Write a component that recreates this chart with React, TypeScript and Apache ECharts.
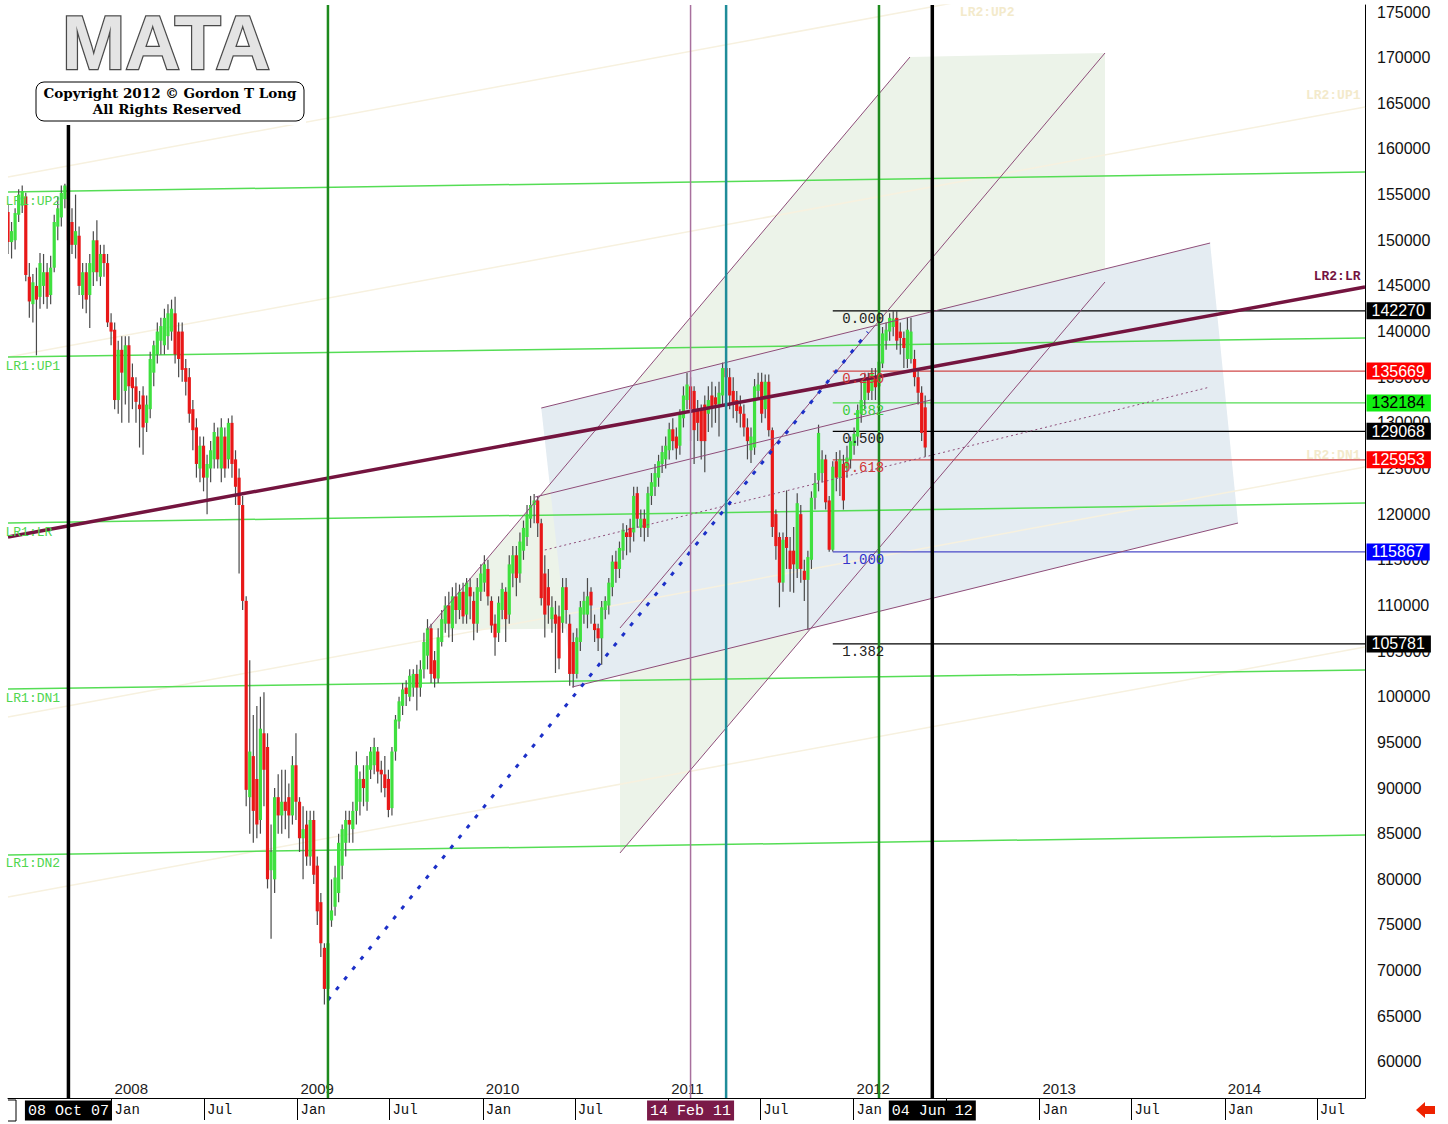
import React, { useEffect, useRef } from "react";
import * as echarts from "echarts";

const MONO = '"Liberation Mono", "DejaVu Sans Mono", monospace';
const SANS = '"Liberation Sans", Arial, sans-serif';

const X_MIN = "2007-06-11";
const X_MAX = "2014-10-04";
const Y_MIN = 56050;
const Y_MAX = 175770;
const FIRST_WEEK = "2007-06-11";

const Y_TICKS = [60000, 65000, 70000, 75000, 80000, 85000, 90000, 95000, 100000, 105000, 110000, 115000, 120000, 125000, 130000, 135000, 140000, 145000, 150000, 155000, 160000, 165000, 170000, 175000];
const HALF_YEAR_TICKS = ["2008-01-01", "2008-07-01", "2009-01-01", "2009-07-01", "2010-01-01", "2010-07-01", "2011-01-01", "2011-07-01", "2012-01-01", "2012-07-01", "2013-01-01", "2013-07-01", "2014-01-01", "2014-07-01"];
// month labels that are not hidden under the highlighted date boxes
const HALF_YEAR_LABELS = ["2008-01-01", "2008-07-01", "2009-01-01", "2009-07-01", "2010-01-01", "2010-07-01", "2011-07-01", "2012-01-01", "2013-01-01", "2013-07-01", "2014-01-01", "2014-07-01"];
const YEAR_TICKS = ["2008-01-01", "2009-01-01", "2010-01-01", "2011-01-01", "2012-01-01", "2013-01-01", "2014-01-01"];

// weekly candles, values in thousands: [open, close, low, high]
const WEEKLY_OHLC_K = [
  [153.1,149.8,148.5,154.0],[149.8,151.0,148.0,152.0],[150.0,153.0,149.0,153.5],[152.8,155.0,152.0,155.6],[153.8,155.4,153.0,156.0],
  [154.8,146.2,145.5,155.2],[146.0,143.3,141.5,147.5],[143.0,145.4,141.0,146.3],[145.0,143.5,137.4,147.0],[143.8,147.5,142.5,148.6],
  [145.0,146.5,143.0,148.5],[146.5,143.8,142.5,147.5],[144.0,147.0,143.0,148.3],[147.0,152.0,146.5,152.8],[151.5,153.5,150.0,154.8],
  [152.5,155.2,151.5,156.0],[154.5,156.0,153.5,156.2],[155.8,150.0,149.0,156.4],[152.0,149.5,148.5,153.5],[149.5,151.0,148.0,155.0],
  [150.5,145.0,144.0,151.5],[144.0,146.5,142.5,147.5],[146.5,143.5,142.0,147.5],[144.0,147.5,140.4,148.5],[146.5,150.0,145.0,151.0],
  [150.0,146.5,145.5,152.2],[146.0,148.5,145.0,149.5],[148.5,147.5,146.0,149.5],[147.5,141.0,140.5,148.5],[141.0,140.0,138.5,142.0],
  [140.2,132.5,131.5,141.0],[132.5,138.0,131.0,139.0],[138.0,135.5,130.0,139.5],[133.5,138.5,132.0,139.5],[138.5,134.0,130.0,139.5],
  [135.0,133.8,131.5,136.5],[134.0,132.3,130.0,135.0],[132.0,131.5,127.3,133.5],[133.0,129.5,126.5,134.0],[130.0,132.0,129.0,133.0],
  [131.5,137.0,130.5,137.8],[135.5,138.5,134.0,139.0],[137.5,140.0,136.5,141.0],[139.0,140.6,137.5,141.5],[138.5,141.5,137.5,142.5],
  [139.5,142.0,138.0,143.0],[140.0,142.5,139.0,143.5],[142.0,137.5,136.5,143.8],[140.0,137.0,135.0,141.0],[140.0,135.8,134.5,141.0],
  [136.0,134.5,133.0,137.0],[135.0,131.0,130.0,136.0],[131.5,129.2,127.0,132.5],[129.5,125.5,124.0,130.5],[125.0,127.5,123.5,128.5],
  [127.5,124.0,122.5,128.5],[124.0,125.5,120.0,126.5],[125.0,127.0,123.5,128.0],[126.0,129.0,125.0,130.0],[128.5,126.0,125.0,129.5],
  [125.0,129.5,123.5,130.5],[128.5,125.0,124.0,129.5],[126.0,130.0,125.0,130.5],[130.0,125.5,124.0,130.8],[126.0,123.0,121.0,127.0],
  [124.0,121.0,113.5,125.0],[121.0,110.5,109.5,122.0],[110.5,89.8,88.0,111.0],[89.0,94.0,85.0,104.0],[93.5,87.5,84.0,98.0],
  [91.0,86.0,84.5,99.0],[86.5,96.5,85.0,100.0],[96.0,92.0,88.0,100.5],[94.5,80.0,79.0,96.0],[81.0,83.0,73.5,86.0],
  [80.0,89.0,78.5,90.0],[89.0,87.0,85.0,91.5],[87.0,88.5,85.0,92.0],[88.5,87.5,85.5,92.0],[89.0,87.0,84.5,90.5],
  [87.0,92.5,86.0,93.5],[92.5,88.5,86.5,96.0],[88.5,84.5,83.0,89.0],[84.5,85.5,80.0,88.0],[86.0,82.5,81.5,87.5],
  [82.5,86.5,81.5,87.5],[86.5,80.5,79.5,87.5],[81.5,76.5,75.0,82.5],[77.5,73.0,71.5,78.5],[72.5,68.0,66.3,73.0],
  [68.0,73.0,66.5,74.0],[75.5,76.6,74.8,80.0],[77.0,80.2,76.0,81.5],[78.5,84.0,77.5,85.0],[81.5,85.5,80.0,86.0],
  [84.0,86.5,82.5,87.5],[86.5,86.0,84.0,87.5],[85.5,87.5,84.0,88.5],[87.5,92.5,86.0,94.0],[88.5,91.0,87.0,91.8],
  [91.0,90.0,88.0,92.5],[88.5,92.5,87.5,93.5],[92.0,94.0,91.0,94.5],[92.5,94.5,91.5,95.5],[94.0,91.8,90.5,94.5],
  [92.0,91.5,89.5,93.0],[91.5,90.0,89.0,93.5],[91.0,87.6,86.8,92.0],[87.8,94.0,87.0,94.5],[94.0,97.5,93.0,98.0],
  [97.3,99.5,96.5,100.0],[99.0,100.8,98.0,101.5],[101.0,100.3,99.0,101.8],[100.0,102.3,99.5,103.0],[101.0,102.5,100.0,103.0],
  [102.5,101.0,98.5,103.5],[101.0,103.0,100.0,104.0],[103.0,106.0,102.0,107.0],[104.5,107.5,103.0,108.5],[107.5,102.5,101.5,108.0],
  [104.0,102.0,101.0,105.0],[102.0,106.5,101.5,107.5],[106.0,108.5,105.5,109.5],[108.0,110.0,107.0,111.0],[110.0,108.0,106.5,111.5],
  [107.5,111.0,106.0,112.0],[111.0,109.5,108.0,112.5],[109.5,111.5,108.5,112.3],[111.5,108.8,108.0,112.5],[109.0,112.5,108.0,113.0],
  [112.0,111.0,108.5,113.0],[110.5,108.0,106.2,111.5],[108.0,112.0,107.0,113.0],[111.5,113.5,110.5,114.5],[112.5,114.5,111.5,115.5],
  [114.0,111.0,110.0,115.0],[110.5,107.8,107.0,111.0],[108.0,106.5,104.5,109.0],[107.0,110.3,106.0,111.0],[109.5,111.8,108.5,112.5],
  [111.5,108.5,106.0,112.0],[109.0,114.5,108.0,115.5],[113.5,115.5,112.0,116.5],[115.5,113.0,111.0,116.5],[113.5,117.0,112.5,118.0],
  [116.0,118.5,115.0,119.3],[117.5,120.0,116.5,121.0],[119.5,121.0,118.5,122.0],[121.0,121.5,119.0,122.2],[121.5,119.0,117.5,122.0],
  [119.0,110.8,110.0,119.5],[113.5,109.0,106.5,115.5],[112.0,110.0,108.0,114.0],[108.5,109.8,107.0,111.0],[109.0,108.0,102.6,110.5],
  [108.8,104.2,103.0,110.0],[108.1,112.0,107.0,113.0],[112.0,109.5,108.0,113.0],[108.0,102.5,101.2,109.0],[106.0,102.5,101.0,107.0],
  [102.5,106.5,102.0,107.5],[106.0,109.8,105.0,110.5],[109.0,110.5,108.0,111.5],[109.0,111.0,107.5,113.0],[111.5,110.0,108.0,112.0],
  [108.0,107.3,106.0,109.0],[107.5,106.4,105.0,108.0],[106.4,109.8,103.5,110.5],[109.5,110.5,108.5,111.0],[110.0,112.5,109.0,113.0],
  [112.0,114.8,111.0,115.5],[114.8,114.0,112.5,116.0],[114.0,116.3,113.0,117.0],[116.0,118.3,115.0,119.0],[118.0,117.5,115.5,118.8],
  [118.5,117.5,115.8,119.5],[118.0,122.0,117.0,123.0],[122.3,119.5,118.5,123.0],[118.5,119.5,117.5,120.5],[119.5,118.5,117.0,120.5],
  [118.5,122.3,117.5,123.0],[122.0,123.5,121.0,124.5],[123.0,124.5,122.0,125.5],[124.0,125.8,123.0,126.5],[125.5,126.8,124.5,127.5],
  [126.0,127.5,125.0,128.5],[127.0,129.3,126.0,130.0],[129.3,128.0,127.0,130.5],[128.5,127.2,126.0,129.5],[127.5,131.0,126.5,131.5],
  [130.5,133.0,129.5,134.0],[132.5,134.2,131.5,135.5],[134.0,131.5,128.0,135.0],[133.5,129.2,125.5,134.0],[131.5,130.0,128.0,132.5],
  [131.5,128.0,126.0,132.0],[132.0,128.0,124.6,133.0],[131.0,132.5,129.0,134.0],[133.0,131.7,129.5,134.5],[132.8,132.0,130.0,134.0],
  [132.0,133.3,128.5,134.5],[133.0,136.0,132.0,136.6],[136.0,135.0,133.5,136.8],[135.0,133.0,131.5,136.0],[133.5,132.0,130.5,135.0],
  [132.5,131.3,130.0,133.5],[131.8,131.0,129.5,133.0],[131.0,129.5,128.5,132.0],[129.5,128.0,126.0,130.5],[127.0,128.5,125.6,129.5],
  [127.3,134.0,126.5,134.8],[133.5,134.2,132.5,135.5],[134.5,131.0,130.0,135.5],[131.5,134.5,130.5,135.3],[134.5,129.2,128.5,135.3],
  [129.2,118.6,117.5,129.5],[120.0,116.5,115.0,120.5],[117.5,112.5,109.8,118.0],[112.5,117.2,111.5,118.0],[117.5,116.3,114.0,122.6],
  [116.0,114.0,111.5,117.5],[116.0,114.5,111.4,118.6],[114.0,121.2,113.0,122.3],[120.0,114.0,112.5,121.0],[113.8,112.8,110.5,115.0],
  [112.8,115.3,107.3,116.0],[115.0,121.8,114.0,122.5],[121.8,123.4,120.5,124.5],[123.7,128.9,122.5,129.8],[124.5,126.0,123.5,127.0],
  [126.0,121.3,120.5,126.5],[121.5,116.1,115.87,122.0],[116.1,125.2,115.9,125.8],[125.8,124.0,122.5,126.8],[124.0,126.0,122.0,127.0],
  [125.5,121.5,120.5,126.5],[125.0,126.2,124.0,127.5],[126.0,128.0,125.0,128.5],[127.5,128.8,126.5,129.5],[128.5,131.4,127.5,132.0],
  [131.0,132.5,130.0,134.5],[132.5,134.7,131.5,135.5],[134.7,133.3,132.5,135.5],[133.5,135.5,132.5,136.0],[135.0,133.9,132.5,136.0],
  [134.0,136.7,133.5,137.5],[136.5,139.8,136.0,140.5],[139.0,140.2,138.0,141.0],[140.0,141.5,139.0,142.0],[140.5,141.4,139.5,142.27],
  [141.5,139.0,138.0,142.27],[140.0,139.3,137.5,141.0],[139.3,138.2,136.0,140.0],[137.0,140.2,136.0,141.5],[137.0,140.0,136.5,141.5],
  [137.0,135.0,134.0,138.0],[135.0,133.3,132.0,136.0],[133.3,128.9,128.0,134.0],[131.7,127.3,126.3,133.0],
];

// LR1 regression channel (green): value at X_MIN and at X_MAX
const LR1_NAMES = ["LR1:UP2", "LR1:UP1", "LR1:LR", "LR1:DN1", "LR1:DN2"];
const LR1_START = [155285, 137212, 119030, 100848, 82667];
const LR1_END = [157475, 139293, 121220, 102929, 84857];

// LR2 regression channel (maroon / faint)
const LR2_NAMES = ["LR2:UP2", "LR2:UP1", "LR2:LR", "LR2:DN1", "LR2:DN2"];
const LR2_START = [156927, 137212, 117497, 97782, 78067];
const LR2_END = [184309, 164594, 144879, 125164, 105449];

// Thin maroon channel lines
const CHANNEL_LINES: [string, number, string, number][] = [
  ["2009-09-13", 107310, "2012-04-21", 170071],
  ["2010-09-28", 107530, "2013-05-10", 170509],
  ["2010-09-28", 82887, "2013-05-10", 145427],
  ["2010-04-26", 131626, "2013-12-03", 149698],
  ["2010-04-14", 121878, "2012-06-01", 132502],
  ["2010-06-26", 101067, "2014-01-27", 119030],
];
const CHANNEL_MID: [string, number, string, number] = ["2010-05-03", 116073, "2013-12-03", 133926];
const TREND_LINE: [string, number, string, number] = ["2009-03-02", 66784, "2012-01-29", 139950];

const GREEN_ZONE: [string, number][] = [
  ["2009-09-13", 107310], ["2012-04-21", 170071], ["2013-05-10", 170509],
  ["2013-05-10", 145427], ["2010-09-28", 82887], ["2010-09-28", 107530],
];
const BLUE_ZONE: [string, number][] = [
  ["2010-04-26", 131626], ["2013-12-03", 149698], ["2014-01-27", 119030], ["2010-06-26", 101067],
];

// Fibonacci levels
const FIB_START = "2011-11-21";
const FIB_LABELS = ["0.000", "0.250", "0.382", "0.500", "0.618", "1.000", "1.382"];
const FIB_VALUES = [142270, 135669, 132184, 129068, 125953, 115867, 105781];
const FIB_LINE_COLORS = ["#000000", "#d04848", "#55dd55", "#000000", "#d04848", "#4a4ac8", "#000000"];
const FIB_TEXT_COLORS = ["#222222", "#d03838", "#3ccc3c", "#222222", "#d03838", "#3333cc", "#222222"];
const FIB_BOX_BG = ["#000000", "#ff0000", "#11ee11", "#000000", "#ff0000", "#0000ff", "#000000"];
const FIB_BOX_FG = ["#ffffff", "#ffffff", "#000000", "#ffffff", "#ffffff", "#ffffff", "#ffffff"];

// vertical date markers
const VLINE_DATES = ["2007-10-08", "2009-03-02", "2011-02-14", "2011-04-25", "2012-02-20", "2012-06-04"];
const VLINE_COLORS = ["#000000", "#1d8a1d", "#a8709e", "#1f8c99", "#1d8a1d", "#000000"];
const VLINE_WIDTHS = [3.5, 2.5, 1.5, 2.5, 2.5, 3.5];
const DATE_BOX_DATES = ["2007-10-08", "2011-02-14", "2012-06-04"];
const DATE_BOX_TEXT = ["08 Oct 07", "14 Feb 11", "04 Jun 12"];
const DATE_BOX_BG = ["#000000", "#7a1a48", "#000000"];

const t = (d: string) => Date.parse(d + "T00:00:00Z");
const WEEK_MS = 7 * 86400000;

function seg(a: [string, number], b: [string, number], lineStyle: any, z: number) {
  return {
    type: "line",
    data: [[t(a[0]), a[1]], [t(b[0]), b[1]]],
    symbol: "none",
    silent: true,
    z,
    lineStyle,
  };
}

function note(date: string, value: number, text: string, label: any) {
  return { value: [t(date), value], label: { show: true, formatter: text, ...label } };
}

function zoneSeries(zone: [string, number][], fill: string, z: number) {
  return {
    type: "custom",
    silent: true,
    z,
    data: [[t(X_MIN), Y_MIN]],
    encode: { x: 0, y: 1 },
    renderItem: (_p: any, api: any) => ({
      type: "polygon",
      shape: { points: zone.map((p) => api.coord([t(p[0]), p[1]])) },
      style: { fill },
    }),
  };
}

export default function App() {
  const ref = useRef<HTMLDivElement>(null);

  useEffect(() => {
    if (!ref.current) return;
    const chart = echarts.init(ref.current, undefined, { renderer: "svg" });

    const candles = WEEKLY_OHLC_K.map((r, i) => [
      t(FIRST_WEEK) + i * WEEK_MS, r[0] * 1000, r[1] * 1000, r[2] * 1000, r[3] * 1000,
    ]);

    const series: any[] = [];
    series.push(zoneSeries(GREEN_ZONE, "#ecf3e9", 1));
    series.push(zoneSeries(BLUE_ZONE, "#e4ecf2", 1));

    LR2_NAMES.forEach((n, i) => {
      if (n === "LR2:LR") return;
      series.push(seg([X_MIN, LR2_START[i]], [X_MAX, LR2_END[i]], { color: "#f7f1df", width: 1.5 }, 2));
    });
    LR1_NAMES.forEach((_n, i) => {
      series.push(seg([X_MIN, LR1_START[i]], [X_MAX, LR1_END[i]], { color: "#55dd55", width: 1.5 }, 3));
    });
    FIB_VALUES.forEach((v, i) => {
      series.push(seg([FIB_START, v], [X_MAX, v], { color: FIB_LINE_COLORS[i], width: 1.2 }, 3));
    });

    series.push({
      type: "custom",
      z: 4,
      silent: true,
      clip: true,
      data: candles,
      dimensions: ["t", "open", "close", "low", "high"],
      encode: { x: 0, y: [1, 2, 3, 4] },
      renderItem: (_p: any, api: any) => {
        const x = api.value(0);
        const o = api.value(1), c = api.value(2), l = api.value(3), h = api.value(4);
        const pO = api.coord([x, o]);
        const pC = api.coord([x, c]);
        const pL = api.coord([x, l]);
        const pH = api.coord([x, h]);
        const up = c >= o;
        const top = Math.min(pO[1], pC[1]);
        const bh = Math.max(1.5, Math.abs(pO[1] - pC[1]));
        return {
          type: "group",
          children: [
            { type: "line", shape: { x1: pH[0], y1: pH[1], x2: pL[0], y2: pL[1] }, style: { stroke: "#4a4a4a", lineWidth: 1.2 } },
            { type: "rect", shape: { x: pO[0] - 1.6, y: top, width: 3.2, height: bh }, style: { fill: up ? "#3fe03f" : "#e81818" } },
          ],
        };
      },
    });

    CHANNEL_LINES.forEach((L) => {
      series.push(seg([L[0], L[1]], [L[2], L[3]], { color: "#8e4d79", width: 1 }, 5));
    });
    series.push(seg([CHANNEL_MID[0], CHANNEL_MID[1]], [CHANNEL_MID[2], CHANNEL_MID[3]], { color: "#8e4d79", width: 1, type: [2, 3] }, 5));
    const lrIdx = LR2_NAMES.indexOf("LR2:LR");
    series.push(seg([X_MIN, LR2_START[lrIdx]], [X_MAX, LR2_END[lrIdx]], { color: "#74143f", width: 3.5 }, 6));
    series.push(seg([TREND_LINE[0], TREND_LINE[1]], [TREND_LINE[2], TREND_LINE[3]], { color: "#1c30c8", width: 3, type: [4, 9] }, 6));

    VLINE_DATES.forEach((d, i) => {
      series.push(seg([d, Y_MIN], [d, Y_MAX], { color: VLINE_COLORS[i], width: VLINE_WIDTHS[i] }, 7));
    });

    const notes: any[] = [];
    LR1_NAMES.forEach((n, i) => {
      notes.push(note(X_MIN, LR1_START[i], n, { position: "right", distance: 0, offset: [-3, 9], color: "#4fd64f", fontFamily: MONO, fontSize: 13 }));
    });
    notes.push(note(X_MAX, LR2_END[lrIdx], "LR2:LR", { position: "left", distance: 4, offset: [0, -11], color: "#74143f", fontFamily: MONO, fontSize: 13, fontWeight: "bold" }));
    notes.push(note(X_MAX, LR2_END[1], "LR2:UP1", { position: "left", distance: 4, offset: [0, -12], color: "#f3eacb", fontFamily: MONO, fontSize: 13, fontWeight: "bold" }));
    notes.push(note(X_MAX, LR2_END[3], "LR2:DN1", { position: "left", distance: 4, offset: [0, -12], color: "#f3eacb", fontFamily: MONO, fontSize: 13, fontWeight: "bold" }));
    notes.push(note("2012-09-20", Y_MAX, "LR2:UP2", { position: "bottom", distance: 0, color: "#f3eacb", fontFamily: MONO, fontSize: 13, fontWeight: "bold" }));
    FIB_VALUES.forEach((v, i) => {
      notes.push(note(FIB_START, v, FIB_LABELS[i], { position: "right", distance: 9, offset: [0, 8], color: FIB_TEXT_COLORS[i], fontFamily: MONO, fontSize: 14 }));
      notes.push(note(X_MAX, v, String(v), {
        position: "right", distance: 1, color: FIB_BOX_FG[i], backgroundColor: FIB_BOX_BG[i],
        fontFamily: SANS, fontSize: 16, lineHeight: 17, padding: [0, 6, 0, 5],
      }));
    });
    DATE_BOX_DATES.forEach((d, i) => {
      notes.push(note(d, Y_MIN, DATE_BOX_TEXT[i], {
        position: "bottom", distance: 2, color: "#ffffff", backgroundColor: DATE_BOX_BG[i],
        fontFamily: MONO, fontSize: 15, lineHeight: 17, padding: [2, 3, 1, 3],
      }));
    });
    series.push({
      type: "scatter",
      z: 20,
      silent: true,
      clip: false,
      symbolSize: 1,
      itemStyle: { color: "rgba(255,255,255,0)", opacity: 1 },
      data: notes,
    });

    chart.setOption({
      animation: false,
      backgroundColor: "#ffffff",
      grid: { left: 8, right: 83, top: 5, bottom: 26, containLabel: false },
      xAxis: [
        {
          type: "value",
          min: t(X_MIN),
          max: t(X_MAX),
          position: "bottom",
          axisLine: { show: true, onZero: false, lineStyle: { color: "#000", width: 1 } },
          axisTick: { show: true, customValues: HALF_YEAR_TICKS.map(t), length: 22, lineStyle: { color: "#000" } },
          axisLabel: {
            customValues: HALF_YEAR_LABELS.map(t),
            formatter: (v: number) => (new Date(v).getUTCMonth() === 0 ? "Jan" : "Jul"),
            align: "left",
            margin: 5,
            padding: [0, 0, 0, 3],
            fontFamily: MONO,
            fontSize: 14,
            color: "#111",
          },
          splitLine: { show: false },
        },
        {
          type: "value",
          min: t(X_MIN),
          max: t(X_MAX),
          position: "bottom",
          axisLine: { show: false, onZero: false },
          axisTick: { show: false },
          axisLabel: {
            inside: true,
            customValues: YEAR_TICKS.map(t),
            formatter: (v: number) => String(new Date(v).getUTCFullYear()),
            align: "left",
            margin: 2,
            padding: [0, 0, 0, 3],
            fontFamily: SANS,
            fontSize: 15,
            color: "#222",
          },
          splitLine: { show: false },
        },
      ],
      yAxis: {
        type: "value",
        position: "right",
        min: Y_MIN,
        max: Y_MAX,
        axisLine: { show: true, lineStyle: { color: "#000", width: 1 } },
        axisTick: { show: false },
        splitLine: { show: false },
        axisLabel: {
          customValues: Y_TICKS,
          margin: 12,
          color: "#111",
          fontSize: 16,
          fontFamily: SANS,
          formatter: (v: number) => String(v),
        },
      },
      graphic: [
        { type: "rect", z: 100, shape: { x: 36, y: 0, width: 270, height: 125 }, style: { fill: "#ffffff" } },
        {
          type: "text", z: 101, x: 166, y: 42,
          style: {
            text: "MATA", font: 'bold 76px "Liberation Sans", Arial, sans-serif',
            fill: "#e4e4e4", stroke: "#4a4a4a", lineWidth: 2.5,
            align: "center", verticalAlign: "middle",
            shadowBlur: 5, shadowColor: "rgba(0,0,0,0.45)", shadowOffsetY: 2,
          },
        },
        { type: "rect", z: 101, shape: { x: 36, y: 82, width: 268, height: 39, r: 8 }, style: { fill: "#ffffff", stroke: "#000", lineWidth: 1 } },
        {
          type: "text", z: 102, x: 170, y: 93,
          style: { text: "Copyright 2012 © Gordon T Long", font: 'bold 13.5px "DejaVu Serif", serif', fill: "#000", align: "center", verticalAlign: "middle" },
        },
        {
          type: "text", z: 102, x: 167, y: 109,
          style: { text: "All Rights Reserved", font: 'bold 13.5px "DejaVu Serif", serif', fill: "#000", align: "center", verticalAlign: "middle" },
        },
        { type: "polyline", z: 100, shape: { points: [[8, 1100], [16, 1100], [16, 1121], [8, 1121]] }, style: { stroke: "#000", lineWidth: 1, fill: "none" } },
        {
          type: "polygon", z: 100,
          shape: { points: [[1416, 1110], [1425, 1102], [1425, 1106], [1435, 1106], [1435, 1114], [1425, 1114], [1425, 1118]] },
          style: { fill: "#ee2200" },
        },
      ],
      series,
    });

    return () => chart.dispose();
  }, []);

  return (
    <div
      ref={ref}
      style={{ position: "fixed", left: 0, top: 0, width: 1448, height: 1124, background: "#ffffff" }}
    />
  );
}
